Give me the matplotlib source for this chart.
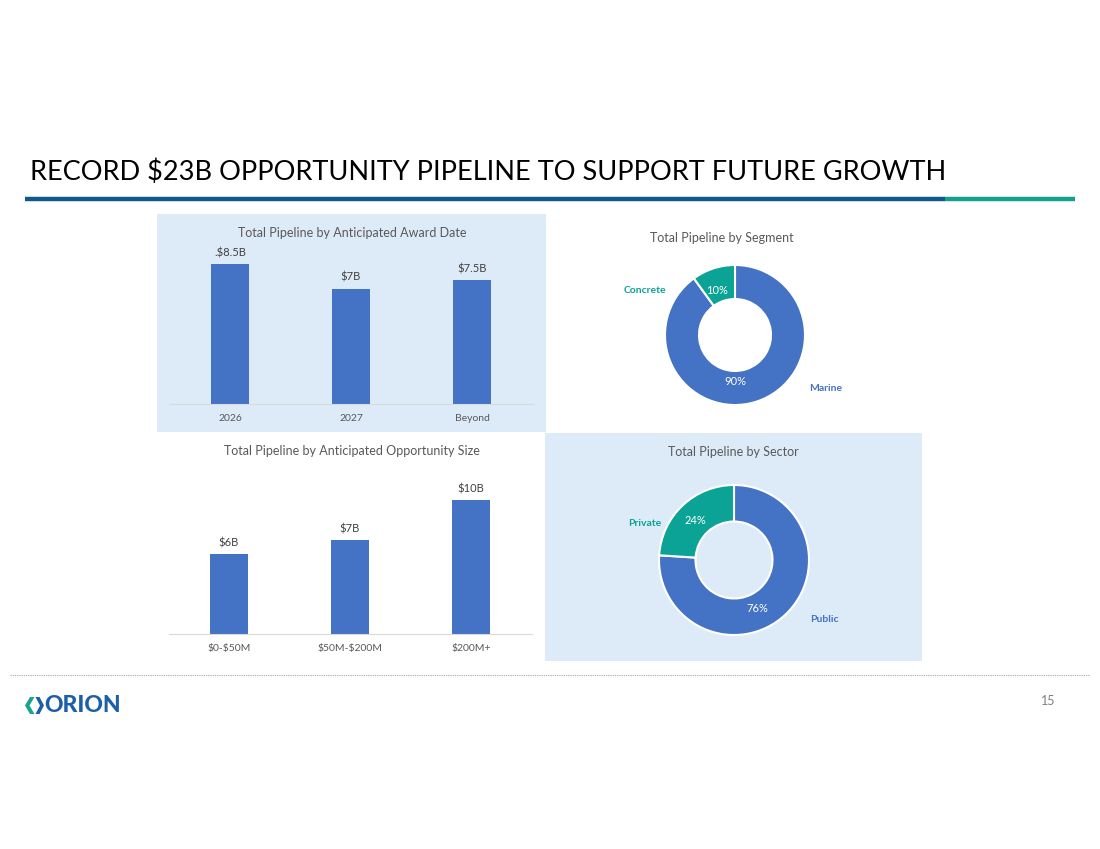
import matplotlib.pyplot as plt
from matplotlib.patches import Rectangle, Polygon
from matplotlib.lines import Line2D

plt.rcParams['text.parse_math'] = False
plt.rcParams['font.family'] = ['Lato', 'DejaVu Sans']

W, H = 1100, 849

award_dates = ["2026", "2027", "Beyond"]
award_values = [8.5, 7.0, 7.5]
award_labels = [".$8.5B", "$7B", "$7.5B"]

size_bins = ["$0-$50M", "$50M-$200M", "$200M+"]
size_values = [6, 7, 10]
size_labels = ["$6B", "$7B", "$10B"]

segments = ["Marine", "Concrete"]
segment_pct = [90, 10]

sectors = ["Public", "Private"]
sector_pct = [76, 24]

BLUE = "#4472C4"
TEAL = "#0AA395"
PANEL = "#DDEBF8"
GRAY = "#595959"
DARK = "#404040"

fig = plt.figure(figsize=(W / 100, H / 100), dpi=100)


def add_ax(x0, y0, x1, y1):
    return fig.add_axes([x0 / W, 1 - y1 / H, (x1 - x0) / W, (y1 - y0) / H])


def ftext(x, y, s, **kw):
    fig.text(x / W, 1 - y / H, s, **kw)


def frect(x0, y0, x1, y1, color):
    fig.add_artist(Rectangle((x0 / W, 1 - y1 / H), (x1 - x0) / W, (y1 - y0) / H,
                             transform=fig.transFigure, color=color, lw=0, zorder=0))


def fline(x0, x1, y, **kw):
    fig.add_artist(Line2D([x0 / W, x1 / W], [1 - y / H, 1 - y / H],
                          transform=fig.transFigure, **kw))


def fpoly(pts, color):
    fig.add_artist(Polygon([(x / W, 1 - y / H) for x, y in pts], closed=True,
                           transform=fig.transFigure, color=color, lw=0))


def bar_panel(x0, x1, y_top, y_base, px_unit, cats, vals, labels):
    ax = add_ax(x0, y_top, x1, y_base)
    ax.set_facecolor('none')
    bars = ax.bar(range(len(cats)), vals, width=0.314, color=BLUE)
    ax.set_xlim(-0.5, len(cats) - 0.5)
    ax.set_ylim(0, (y_base - y_top) / px_unit)
    for s in ['top', 'right', 'left']:
        ax.spines[s].set_visible(False)
    ax.spines['bottom'].set_color('#D9D9D9')
    ax.set_yticks([])
    ax.set_xticks(range(len(cats)), cats)
    ax.tick_params(axis='x', length=0, pad=7, labelsize=7.5, labelcolor=GRAY)
    ax.bar_label(bars, labels=labels, padding=4, fontsize=8, color=DARK)
    return ax


def donut(cx, cy, r_out, r_in, vals, colors, names, name_pos, pct_pos):
    ax = add_ax(cx - r_out, cy - r_out, cx + r_out, cy + r_out)
    ax.pie(vals, colors=colors, startangle=90, counterclock=False, radius=1,
           wedgeprops=dict(width=1 - r_in / r_out, edgecolor='white', linewidth=1.5))
    ax.set_xlim(-1, 1)
    ax.set_ylim(-1, 1)
    for v, c, n, (nx, ny), (px, py) in zip(vals, colors, names, name_pos, pct_pos):
        ax.text(px, py, f"{v}%", ha='center', va='center', color='white', fontsize=8)
        ax.text(nx, ny, n, ha='center', va='center', color=c, fontsize=7.5,
                fontweight='bold', clip_on=False)
    return ax


# header
ftext(30, 172, "RECORD $23B OPPORTUNITY PIPELINE TO SUPPORT FUTURE GROWTH",
      fontsize=19.5, color='black', va='center', ha='left')
fline(25, 945, 199, color='#0E5A8A', lw=3.2, solid_capstyle='butt')
fline(945, 1075, 199, color='#15A08E', lw=3.2, solid_capstyle='butt')

# panel backgrounds
frect(157, 214, 546, 432, PANEL)
frect(545, 433, 922, 661, PANEL)

# award date bars
ftext(352, 233, "Total Pipeline by Anticipated Award Date", fontsize=9, color=GRAY,
      ha='center', va='center')
bar_panel(169.5, 532.5, 230, 404, 16.5, award_dates, award_values, award_labels)

# opportunity size bars
ftext(352, 451, "Total Pipeline by Anticipated Opportunity Size", fontsize=9, color=GRAY,
      ha='center', va='center')
bar_panel(168.5, 531.5, 460, 634, 13.4, size_bins, size_values, size_labels)

# segment donut
ftext(722, 238, "Total Pipeline by Segment", fontsize=9, color=GRAY,
      ha='center', va='center')
donut(735, 335, 70, 36, segment_pct, [BLUE, TEAL], segments,
      [(1.3, -0.77), (-1.29, 0.63)], [(0, -0.67), (-0.26, 0.64)])

# sector donut
ftext(733, 452, "Total Pipeline by Sector", fontsize=9, color=GRAY,
      ha='center', va='center')
donut(734, 560, 75, 38.5, sector_pct, [BLUE, TEAL], sectors,
      [(1.21, -0.79), (-1.19, 0.49)], [(0.31, -0.64), (-0.52, 0.53)])

# footer
fline(10, 1090, 675, color='#A6A6A6', lw=0.8, linestyle=(0, (1, 1)))
ftext(1048, 701, "15", fontsize=9, color='#7F7F7F', ha='center', va='center')

# logo
fpoly([(30, 697), (34.5, 697), (29.5, 705.5), (34.5, 714), (30, 714), (25, 705.5)], '#17A58F')
fpoly([(35.5, 697), (39.5, 697), (44, 705.5), (39.5, 714), (35.5, 714), (40, 705.5)], '#1B5FA8')
ftext(44.5, 706, "ORION", fontsize=16.5, fontweight='black', color='#1B5FA8',
      ha='left', va='center')

fig.savefig("out.png", dpi=100)
